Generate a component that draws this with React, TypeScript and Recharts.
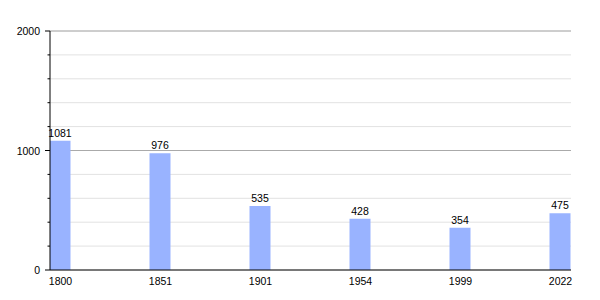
import { Bar, BarChart, CartesianGrid, LabelList, XAxis, YAxis } from 'recharts';

const years = ['1800', '1851', '1901', '1954', '1999', '2022'];
const population = [1081, 976, 535, 428, 354, 475];
const yTicks = [0, 200, 400, 600, 800, 1000, 1200, 1400, 1600, 1800, 2000];
const majorTicks = [1000, 2000];

const data = years.map((year, i) => ({ idx: i, year, value: population[i] }));

const font = '"Liberation Sans", Arial, sans-serif';

function YTick(props: any) {
  const { x, y, payload } = props;
  const axisX = x + 10;
  const major = payload.value % 1000 === 0;
  return (
    <g>
      <line x1={axisX - (major ? 5 : 2.5)} x2={axisX} y1={y} y2={y} stroke="#000" />
      {major && (
        <text x={axisX - 10} y={y} dy={4} textAnchor="end" fontSize={10.5} fontFamily={font} fill="#000">
          {payload.value}
        </text>
      )}
    </g>
  );
}

export default function App() {
  return (
    <div style={{ position: 'absolute', left: 0, top: 0, background: '#fff' }}>
      <BarChart
        width={600}
        height={300}
        data={data}
        margin={{ top: 31, right: 29, left: 0, bottom: 0 }}
      >
        <CartesianGrid vertical={false} stroke="#e2e2e2" />
        <CartesianGrid vertical={false} horizontalValues={majorTicks} stroke="#aaaaaa" />
        <XAxis
          dataKey="idx"
          type="number"
          domain={[-0.105, 5.105]}
          allowDataOverflow
          ticks={[0, 1, 2, 3, 4, 5]}
          tickFormatter={(v: number) => years[v]}
          tickLine={false}
          axisLine={{ stroke: '#000' }}
          height={30}
          tickMargin={2}
          tick={{ fontSize: 10.5, fontFamily: font, fill: '#000' }}
        />
        <YAxis
          domain={[0, 2000]}
          ticks={yTicks}
          interval={0}
          width={50}
          tickSize={5}
          tickMargin={5}
          tickLine={false}
          axisLine={{ stroke: '#000' }}
          tick={<YTick />}
        />
        <Bar dataKey="value" fill="#99b3ff" barSize={21} isAnimationActive={false}>
          <LabelList
            dataKey="value"
            position="top"
            offset={4}
            style={{ fontSize: 10.5, fontFamily: font, fill: '#000' }}
          />
        </Bar>
      </BarChart>
    </div>
  );
}
